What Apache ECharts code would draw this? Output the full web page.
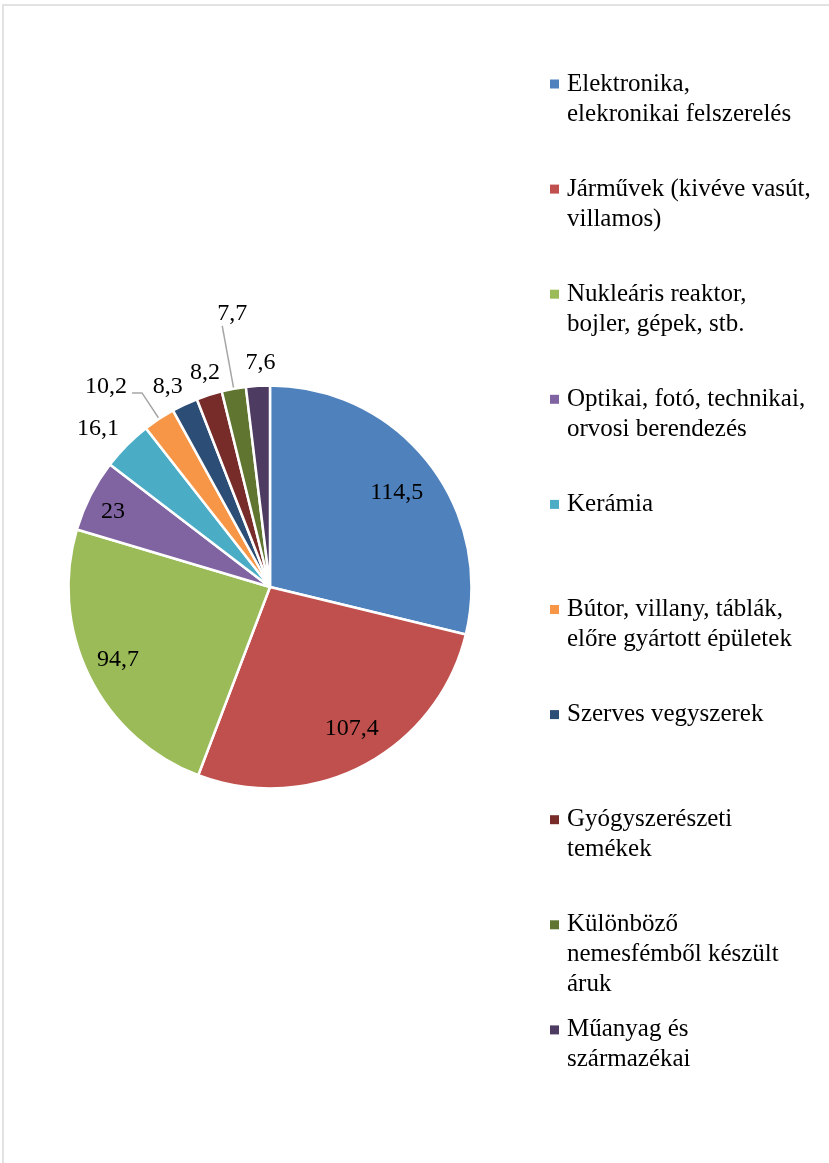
<!DOCTYPE html>
<html><head><meta charset="utf-8">
<script src="https://cdn.jsdelivr.net/npm/echarts@6/dist/echarts.min.js"></script>
<style>html,body{margin:0;padding:0;background:#fff}#c{width:829px;height:1163px}</style>
</head><body><div id="c"></div>
<script>
// ---- data ----
const categoryLines = [
  ['Elektronika,', 'elekronikai felszerelés'],
  ['Járművek (kivéve vasút,', 'villamos)'],
  ['Nukleáris reaktor,', 'bojler, gépek, stb.'],
  ['Optikai, fotó, technikai,', 'orvosi berendezés'],
  ['Kerámia'],
  ['Bútor, villany, táblák,', 'előre gyártott épületek'],
  ['Szerves vegyszerek'],
  ['Gyógyszerészeti', 'temékek'],
  ['Különböző', 'nemesfémből készült', 'áruk'],
  ['Műanyag és', 'származékai']
];
const categories = categoryLines.map(l => l.join(' '));
const values = [114.5, 107.4, 94.7, 23, 16.1, 10.2, 8.3, 8.2, 7.7, 7.6];
const colors = ['#4F81BD', '#C0504D', '#9BBB59', '#8064A2', '#4BACC6',
                '#F79646', '#2C4D75', '#772C2A', '#5F7530', '#4D3B62'];
const labelPlacement = ['inner', 'inner', 'inner', 'inner', 'outer',
                        'leader', 'outer', 'outer', 'leader', 'outer'];

// ---- styling ----
const FONT = "'Liberation Serif', 'Times New Roman', serif";
const CENTER = [270, 587];
const R = 201.5;
const fmt = p => String(p.value).replace('.', ',');
const labelText = { fontFamily: FONT, fontSize: 24, color: '#000' };
// small label nudges (px) relative to the library's own label placement
const labelNudge = {
  0: [-3, 8], 1: [5, -4], 2: [-4, 0], 3: [-10, 0],
  4: [-12, 0], 6: [-7, 4], 7: [3, 0], 9: [4, 0]
};
// leader labels: radial length, horizontal length, gap, line height of the (lifting) trailing blank line
const leaderStyle = {
  5: { length: 31, length2: 10, distance: 5, lift: 12 },
  8: { length: 64, length2: 0, distance: -25, lift: 24 }
};

const mainData = values.map((v, i) => {
  const d = { name: categories[i], value: v };
  if (labelPlacement[i] === 'leader') {
    const s = leaderStyle[i];
    d.label = Object.assign({}, labelText, {
      show: true, position: 'outside',
      formatter: p => fmt(p) + '\n',
      lineHeight: s.lift,
      distanceToLabelLine: s.distance
    });
    d.labelLine = { show: true, length: s.length, length2: s.length2,
      lineStyle: { color: '#A6A6A6', width: 1.5 } };
  }
  return d;
});

function ringData(kind) {
  return values.map((v, i) => ({
    name: categories[i], value: v,
    label: { show: labelPlacement[i] === kind }
  }));
}

const overlayBase = {
  type: 'pie', center: CENTER, startAngle: 90, clockwise: true,
  silent: true, avoidLabelOverlap: false,
  labelLayout: p => {
    const n = labelNudge[p.dataIndex] || [0, 0];
    return { dx: n[0], dy: n[1], hideOverlap: false };
  },
  itemStyle: { color: 'rgba(0,0,0,0)', borderWidth: 0 },
  label: Object.assign({ position: 'inside', formatter: fmt }, labelText),
  labelLine: { show: false },
  emphasis: { disabled: true }
};

const legends = categoryLines.map((lines, i) => {
  const n = lines.length, L = 30;
  const markerY = 84 + 105.1 * i;
  return {
    data: [categories[i]], orient: 'vertical', left: 550,
    top: markerY - (2 * n - 1) * L / 2,
    padding: 0, itemWidth: 9, itemHeight: 9, icon: 'rect', selectedMode: false,
    itemStyle: { borderWidth: 0 },
    // leading blank lines keep the marker level with the first text line
    formatter: () => '\n'.repeat(n - 1) + lines.join('\n'),
    textStyle: { fontFamily: FONT, fontSize: 25, lineHeight: L, color: '#000',
                 padding: [0, 0, 0, 3] }
  };
});

const chart = echarts.init(document.getElementById('c'), null, { renderer: 'canvas' });
chart.setOption({
  animation: false,
  color: colors,
  backgroundColor: '#fff',
  graphic: [{
    type: 'rect', silent: true, z: -10,
    shape: { x: 3, y: 5, width: 1000, height: 1400 },
    style: { fill: 'none', stroke: '#D9D9D9', lineWidth: 1.5 }
  }],
  legend: legends,
  series: [
    {
      type: 'pie', name: 'main', center: CENTER, radius: [0, R],
      startAngle: 90, clockwise: true, avoidLabelOverlap: false,
      labelLayout: { hideOverlap: false },
      itemStyle: { borderColor: '#fff', borderWidth: 2.5 },
      label: { show: false },
      labelLine: { show: false },
      emphasis: { disabled: true },
      data: mainData
    },
    Object.assign({}, overlayBase, { name: 'inner', radius: [123.5, 200.5], data: ringData('inner') }),
    Object.assign({}, overlayBase, { name: 'outer', radius: [200.5, 243.5], data: ringData('outer') })
  ]
});
</script>
</body></html>
